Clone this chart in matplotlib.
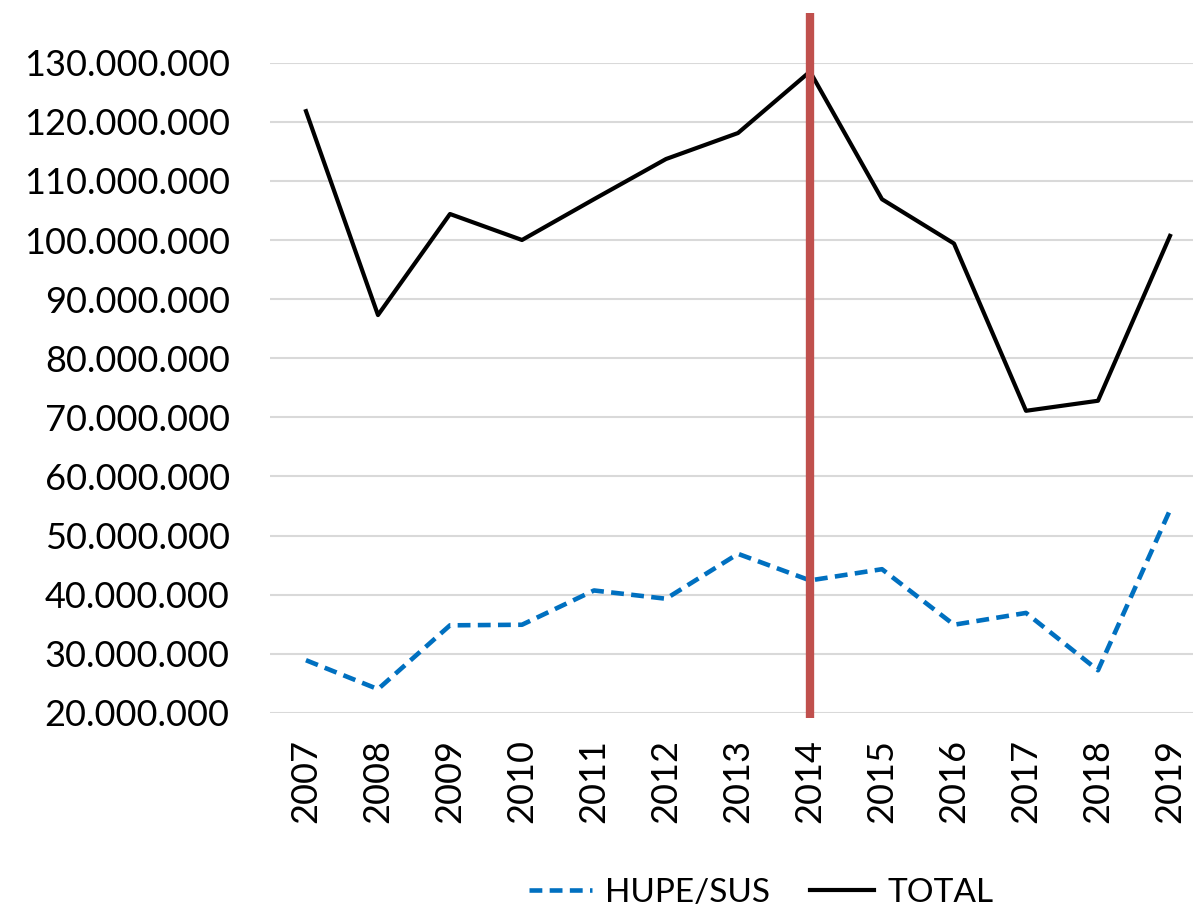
import matplotlib
matplotlib.use('Agg')
import matplotlib.pyplot as plt
import matplotlib.transforms as mtransforms
from matplotlib.ticker import FuncFormatter

plt.rcParams['font.family'] = ['Lato', 'DejaVu Sans']

# data
years = [2007, 2008, 2009, 2010, 2011, 2012, 2013, 2014, 2015, 2016, 2017, 2018, 2019]
hupe_sus = [28.9, 24.0, 34.8, 34.9, 40.7, 39.3, 46.9, 42.4, 44.3, 34.9, 36.9, 27.2, 54.3]
total = [121.8, 87.3, 104.4, 100.0, 106.9, 113.7, 118.1, 128.5, 106.9, 99.4, 71.1, 72.8, 100.7]
marker_year = 2014
yticks = list(range(20, 131, 10))

hupe_sus = [v * 1e6 for v in hupe_sus]
total = [v * 1e6 for v in total]

fig = plt.figure(figsize=(11.93, 9.10), dpi=100)
ax = fig.add_axes([0.2263, 0.2167, 0.7846, 0.7144])

ax.plot(years, hupe_sus, color='#0070C0', lw=3.3, linestyle=(0, (2.8, 1.6)),
        label='HUPE/SUS', zorder=3)
ax.plot(years, total, color='black', lw=3.0, label='TOTAL', zorder=3)

# vertical marker line, sticks out above the plot area
trans = mtransforms.blended_transform_factory(ax.transData, ax.transAxes)
ax.plot([marker_year, marker_year], [-0.008, 1.076], color='#C0504D', lw=6,
        transform=trans, clip_on=False, solid_capstyle='butt', zorder=4)

ax.set_xlim(2006.5, 2019.5)
ax.set_ylim(20e6, 130e6)
ax.set_yticks([v * 1e6 for v in yticks])
ax.yaxis.set_major_formatter(FuncFormatter(lambda v, p: f'{int(round(v)):,}'.replace(',', '.')))
ax.set_xticks(years)
ax.set_xticklabels([str(y) for y in years], rotation=90)

ax.grid(axis='y', color='#D9D9D9', lw=1.5)
ax.set_axisbelow(True)
for s in ax.spines.values():
    s.set_visible(False)
ax.tick_params(axis='both', length=0, labelsize=26)
ax.tick_params(axis='y', pad=29)
ax.tick_params(axis='x', pad=19)

fig.legend(loc='center', bbox_to_anchor=(761 / 1193, 1 - 893 / 910), ncol=2,
           frameon=False, fontsize=24, handlelength=1.9, handletextpad=0.4,
           columnspacing=1.2)

fig.savefig('out.png', dpi=100)
